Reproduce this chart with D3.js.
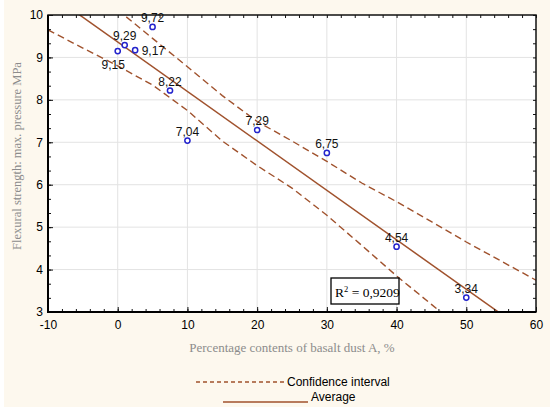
<!DOCTYPE html>
<html>
<head>
<meta charset="utf-8">
<script src="https://cdn.jsdelivr.net/npm/d3@7"></script>
<style>
body { margin: 0; background: #fff; }
</style>
</head>
<body>
<script>
'use strict';

/* global d3:false */

// measured points
var pctBasalt = [0, 1, 2.5, 5, 7.5, 10, 20, 30, 40, 50],
    strength = [9.15, 9.29, 9.17, 9.72, 8.22, 7.04, 7.29, 6.75, 4.54, 3.34],
    pointLabels = ['9,15', '9,29', '9,17', '9,72', '8,22', '7,04', '7,29', '6,75', '4,54', '3,34'];

// fitted line at the plot edges
var avgX = [-10, 60],
    avgY = [10.53, 2.37];

// confidence band
var upperX = [0, 5, 10, 15, 20, 25, 30, 35, 40, 45, 50, 55, 60],
    upperY = [10.12, 9.45, 8.78, 8.1, 7.49, 7.03, 6.55, 6.04, 5.6, 5.13, 4.65, 4.2, 3.75];

var lowerX = [-10, -5, 0, 5, 10, 15, 20, 25, 30, 35, 40, 45, 50],
    lowerY = [9.65, 9.22, 8.8, 8.35, 7.75, 7.03, 6.45, 5.92, 5.28, 4.57, 3.85, 3.18, 2.5];

var xTicks = [-10, 0, 10, 20, 30, 40, 50, 60],
    yTicks = [3, 4, 5, 6, 7, 8, 9, 10];

var rSquared = '0,9209',
    xTitle = 'Percentage contents of basalt dust A, %',
    yTitle = 'Flexural strength: max. pressure MPa',
    legendLabels = ['Confidence interval', 'Average'];

var W = 550, H = 414,
    plot = {left: 48, top: 15, right: 536, bottom: 312},
    lineColor = '#a0522d',
    sansFont = '"Liberation Sans", Arial, sans-serif',
    serifFont = '"Liberation Serif", "Times New Roman", serif';

var svg = d3.select('body').append('svg')
    .attr('width', W)
    .attr('height', H);

svg.append('rect')
    .attr('x', 4).attr('y', 0)
    .attr('width', W - 4).attr('height', 407)
    .attr('fill', '#fdf8ee');

svg.append('rect')
    .attr('x', plot.left).attr('y', plot.top)
    .attr('width', plot.right - plot.left)
    .attr('height', plot.bottom - plot.top)
    .attr('fill', '#fff');

var x = d3.scaleLinear().domain([-10, 60]).range([plot.left, plot.right]),
    y = d3.scaleLinear().domain([3, 10]).range([plot.bottom, plot.top]);

// grid
var grid = svg.append('g').attr('class', 'grid')
    .attr('stroke', '#e3e3e3')
    .attr('stroke-width', 1);

grid.selectAll('line.gx')
    .data(xTicks.slice(1, -1))
    .enter().append('line')
        .attr('class', 'gx')
        .attr('x1', function(d) { return x(d); })
        .attr('x2', function(d) { return x(d); })
        .attr('y1', plot.top)
        .attr('y2', plot.bottom);

grid.selectAll('line.gy')
    .data(yTicks.slice(1, -1))
    .enter().append('line')
        .attr('class', 'gy')
        .attr('y1', function(d) { return y(d); })
        .attr('y2', function(d) { return y(d); })
        .attr('x1', plot.left)
        .attr('x2', plot.right);

svg.append('clipPath').attr('id', 'plotclip')
    .append('rect')
        .attr('x', plot.left).attr('y', plot.top)
        .attr('width', plot.right - plot.left)
        .attr('height', plot.bottom - plot.top);

var lines = svg.append('g').attr('clip-path', 'url(#plotclip)');

var lineGen = d3.line()
    .x(function(d) { return x(d[0]); })
    .y(function(d) { return y(d[1]); });

function zipXY(xs, ys) {
    return xs.map(function(v, i) { return [v, ys[i]]; });
}

lines.append('path')
    .datum(zipXY(upperX, upperY))
    .attr('d', lineGen)
    .attr('fill', 'none')
    .attr('stroke', lineColor)
    .attr('stroke-width', 1.4)
    .attr('stroke-dasharray', '7,4');

lines.append('path')
    .datum(zipXY(lowerX, lowerY))
    .attr('d', lineGen)
    .attr('fill', 'none')
    .attr('stroke', lineColor)
    .attr('stroke-width', 1.4)
    .attr('stroke-dasharray', '7,4');

lines.append('path')
    .datum(zipXY(avgX, avgY))
    .attr('d', lineGen)
    .attr('fill', 'none')
    .attr('stroke', lineColor)
    .attr('stroke-width', 1.5);

// axes: labels, then minor/major ticks pointing inward
var plainFormat = function(d) { return String(d); };

function styleAxis(g) {
    g.select('.domain').remove();
    g.selectAll('text')
        .attr('fill', '#000')
        .style('font-family', sansFont)
        .style('font-size', '12px');
}

svg.append('g')
    .attr('transform', 'translate(0,' + plot.bottom + ')')
    .call(d3.axisBottom(x).tickValues(xTicks).tickFormat(plainFormat).tickSize(0).tickPadding(8))
    .call(styleAxis);

svg.append('g')
    .attr('transform', 'translate(' + plot.left + ',0)')
    .call(d3.axisLeft(y).tickValues(yTicks).tickFormat(plainFormat).tickSize(0).tickPadding(5))
    .call(styleAxis);

var xMinor = d3.range(-10, 61, 2),
    yMinor = d3.range(9, 31).map(function(v) { return v / 3; });

function tickAxis(axis, values, size, translate) {
    svg.append('g')
        .attr('transform', translate)
        .call(axis.tickValues(values).tickSize(-size).tickFormat(''))
        .call(function(g) {
            g.select('.domain').remove();
            g.selectAll('line').attr('stroke', '#111').attr('stroke-width', 1);
        });
}

tickAxis(d3.axisBottom(x), xMinor, 3, 'translate(0,' + plot.bottom + ')');
tickAxis(d3.axisTop(x), xMinor, 3, 'translate(0,' + plot.top + ')');
tickAxis(d3.axisLeft(y), yMinor, 3, 'translate(' + plot.left + ',0)');
tickAxis(d3.axisRight(y), yMinor, 3, 'translate(' + plot.right + ',0)');
tickAxis(d3.axisBottom(x), xTicks, 5, 'translate(0,' + plot.bottom + ')');
tickAxis(d3.axisLeft(y), yTicks, 5, 'translate(' + plot.left + ',0)');

// frame
svg.append('rect')
    .attr('x', plot.left).attr('y', plot.top)
    .attr('width', plot.right - plot.left)
    .attr('height', plot.bottom - plot.top)
    .attr('fill', 'none')
    .attr('stroke', '#111')
    .attr('stroke-width', 1.5);

svg.append('line')
    .attr('x1', plot.left).attr('x2', plot.left)
    .attr('y1', plot.top).attr('y2', plot.bottom + 1)
    .attr('stroke', '#000').attr('stroke-width', 2);

svg.append('line')
    .attr('x1', plot.left - 1).attr('x2', plot.right)
    .attr('y1', plot.bottom).attr('y2', plot.bottom)
    .attr('stroke', '#000').attr('stroke-width', 2);

// points and their value labels
var pts = pctBasalt.map(function(v, i) {
    return {x: v, y: strength[i], label: pointLabels[i]};
});

svg.append('g').selectAll('circle')
    .data(pts)
    .enter().append('circle')
        .attr('cx', function(d) { return x(d.x); })
        .attr('cy', function(d) { return y(d.y); })
        .attr('r', 2.6)
        .attr('fill', '#fff')
        .attr('stroke', '#2323cc')
        .attr('stroke-width', 1.5);

var labelSide = {'9,15': 'below', '9,17': 'right'};

svg.append('g').selectAll('text')
    .data(pts)
    .enter().append('text')
        .attr('x', function(d) {
            var side = labelSide[d.label];
            if(side === 'right') return x(d.x) + 6.5;
            if(side === 'below') return x(d.x) - 4.5;
            return x(d.x);
        })
        .attr('y', function(d) {
            var side = labelSide[d.label];
            if(side === 'right') return y(d.y) + 5;
            if(side === 'below') return y(d.y) + 18;
            return y(d.y) - 5;
        })
        .attr('text-anchor', function(d) {
            return labelSide[d.label] === 'right' ? 'start' : 'middle';
        })
        .style('font-family', sansFont)
        .style('font-size', '12px')
        .attr('fill', '#111')
        .text(function(d) { return d.label; });

// R squared box
svg.append('rect')
    .attr('x', 331).attr('y', 278)
    .attr('width', 68).attr('height', 26)
    .attr('fill', '#fff')
    .attr('stroke', '#000')
    .attr('stroke-width', 1.3);

var rText = svg.append('text')
    .attr('x', 335).attr('y', 297)
    .style('font-family', serifFont)
    .style('font-size', '13.5px')
    .attr('fill', '#000');
rText.append('tspan').text('R');
rText.append('tspan').attr('dy', -5).style('font-size', '8.5px').text('2');
rText.append('tspan').attr('dy', 5).text(' = ' + rSquared);

// axis titles
svg.append('text')
    .attr('x', 292).attr('y', 352)
    .attr('text-anchor', 'middle')
    .style('font-family', serifFont)
    .style('font-size', '13px')
    .attr('fill', '#8c8c8c')
    .text(xTitle);

svg.append('text')
    .attr('transform', 'translate(21,156) rotate(-90)')
    .attr('text-anchor', 'middle')
    .style('font-family', serifFont)
    .style('font-size', '12.5px')
    .attr('fill', '#8c8c8c')
    .text(yTitle);

// legend
svg.append('line')
    .attr('x1', 196).attr('x2', 284)
    .attr('y1', 382).attr('y2', 382)
    .attr('stroke', lineColor)
    .attr('stroke-width', 1.3)
    .attr('stroke-dasharray', '4,3');

svg.append('line')
    .attr('x1', 223).attr('x2', 308)
    .attr('y1', 402).attr('y2', 402)
    .attr('stroke', lineColor)
    .attr('stroke-width', 1.5);

svg.append('g').selectAll('text')
    .data(legendLabels)
    .enter().append('text')
        .attr('x', function(d, i) { return i === 0 ? 287 : 311; })
        .attr('y', function(d, i) { return i === 0 ? 386 : 401; })
        .style('font-family', sansFont)
        .style('font-size', '12px')
        .attr('fill', '#000')
        .text(function(d) { return d; });
</script>
</body>
</html>
